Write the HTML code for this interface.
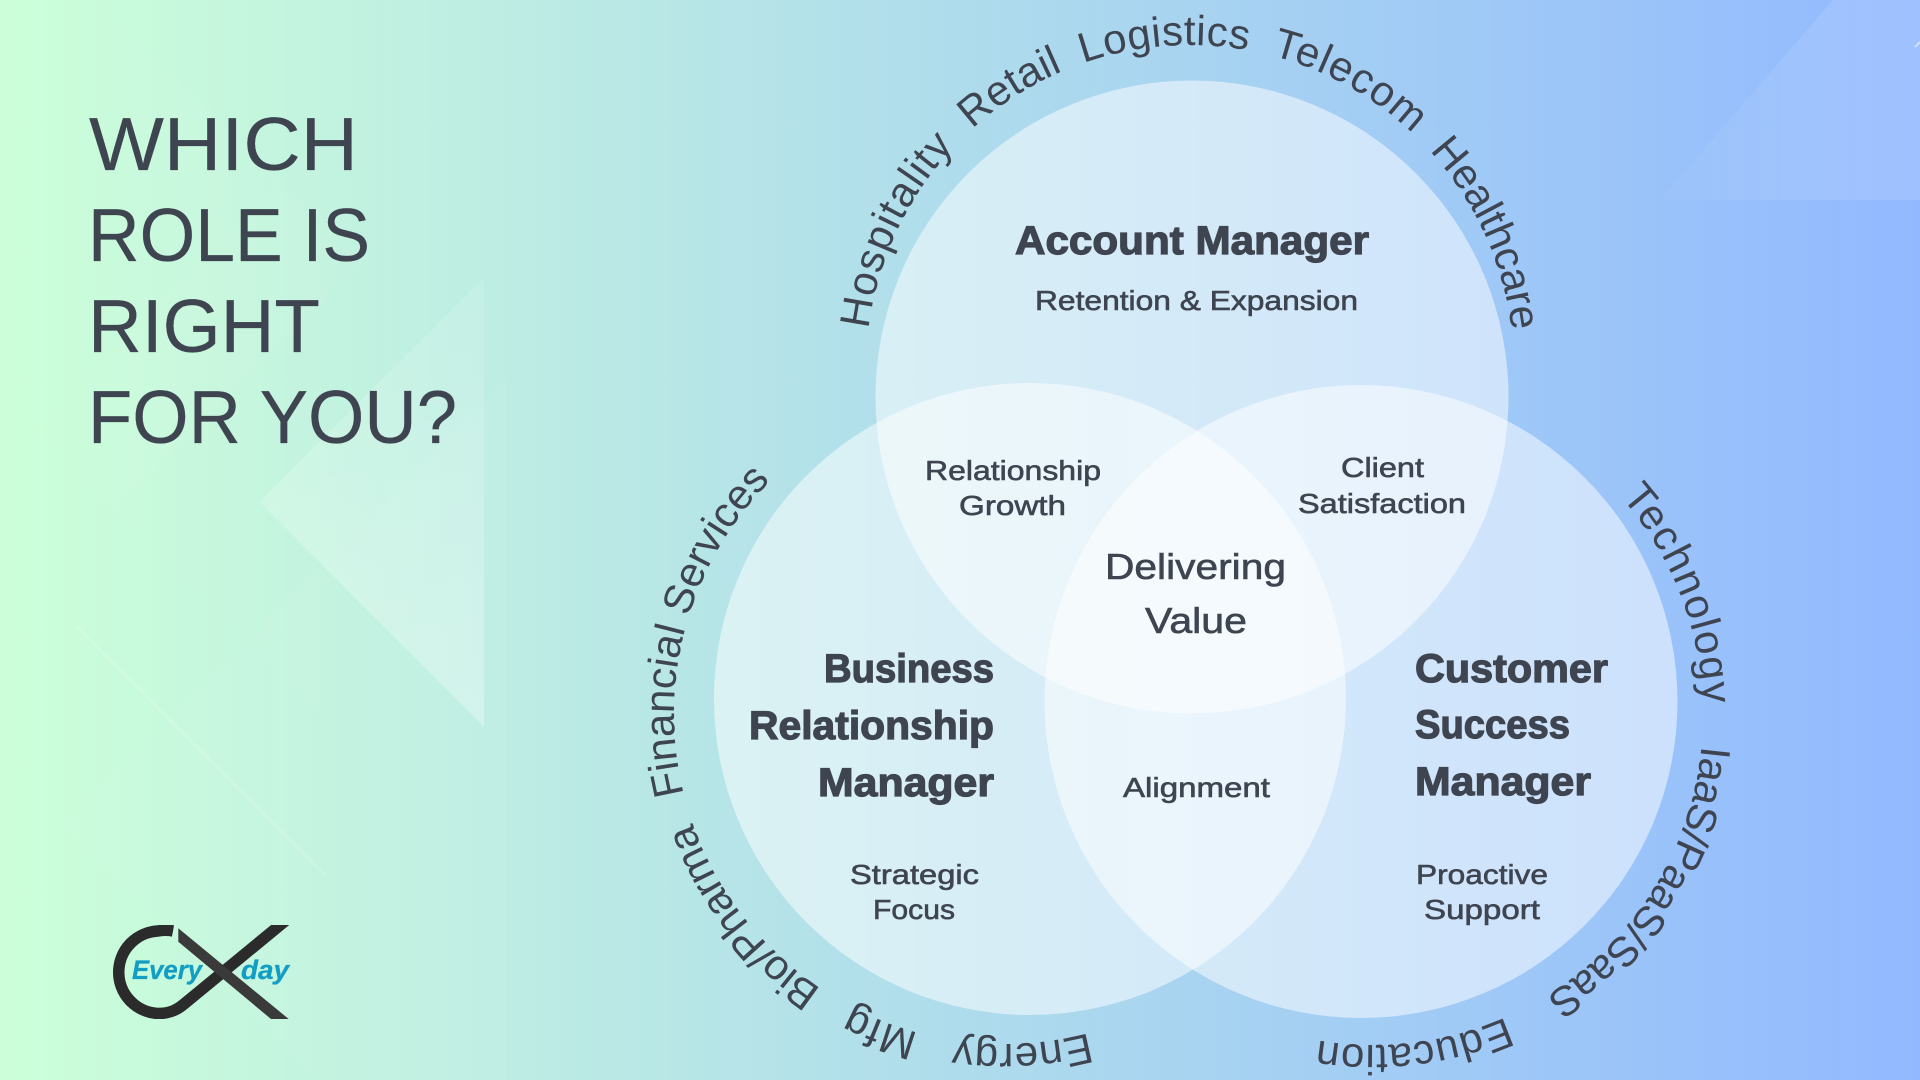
<!DOCTYPE html>
<html lang="en">
<head>
<meta charset="utf-8">
<title>Which role is right for you?</title>
<style>
html,body{margin:0;padding:0;width:1920px;height:1080px;overflow:hidden;background:#afdcec}
svg{display:block}
text{font-family:"Liberation Sans",sans-serif;fill:#3e4450}
.h{font-size:75px;stroke:#3e4450;stroke-width:.2px}
.b{font-weight:700;font-size:40px;stroke:#3e4450;stroke-width:1.2px}
.s{font-size:28px;stroke:#3e4450;stroke-width:.6px}
.c{font-size:36px;stroke:#3e4450;stroke-width:.6px}
.a{font-size:42px}
.l{font-weight:700;font-style:italic;font-size:27px;fill:#129ec4;stroke:#129ec4;stroke-width:.3px}
</style>
</head>
<body>
<svg width="1920" height="1080" viewBox="0 0 1920 1080" xmlns="http://www.w3.org/2000/svg">
<defs>
<linearGradient id="bg" x1="0" y1="0" x2="1" y2="0"><stop offset="0" stop-color="#ccffd9"/><stop offset="1" stop-color="#92b9ff"/></linearGradient>
<linearGradient id="t1" x1="0.6" y1="0" x2="0.6" y2="1"><stop offset="0" stop-color="#fff" stop-opacity=".1"/><stop offset="1" stop-color="#fff" stop-opacity=".3"/></linearGradient>
<linearGradient id="t2" x1="0" y1="0" x2="1" y2="0"><stop offset="0" stop-color="#fff" stop-opacity=".02"/><stop offset="1" stop-color="#fff" stop-opacity=".05"/></linearGradient>
<linearGradient id="t3" x1="0" y1="0" x2="1" y2="0"><stop offset="0" stop-color="#fff" stop-opacity=".02"/><stop offset=".6" stop-color="#fff" stop-opacity=".1"/><stop offset="1" stop-color="#fff" stop-opacity=".12"/></linearGradient>
<path id="top" d="M866 369 A324 324 0 0 1 1514 369"/>
<path id="lft" d="M1169 999.8 A330 330 0 0 1 839 428.2"/>
<path id="rgt" d="M1538 429.2 A330 330 0 0 1 1208 1000.8"/>
<clipPath id="lc"><rect x="100" y="925" width="200" height="94"/></clipPath>
</defs>

<rect width="1920" height="1080" fill="url(#bg)"/>

<!-- faint background triangles -->
<polygon points="120.5,503 120.5,22 362,262" fill="#fff" fill-opacity=".04"/>
<polygon points="33,430 327,136 327,724" fill="#fff" fill-opacity=".02"/>
<polygon points="507,380 61,825 316,1080 507,1080" fill="url(#t2)"/>
<polygon points="484,277 259.5,502 484,727" fill="url(#t1)"/>
<line x1="76" y1="626" x2="325" y2="875" stroke="#fff" stroke-opacity=".18" stroke-width="2"/>
<polygon points="1833,0 1920,0 1920,200 1660,200" fill="url(#t3)"/>
<line x1="1915" y1="47" x2="1920" y2="42" stroke="#fff" stroke-opacity=".5" stroke-width="2"/>

<!-- heading -->
<text class="h" x="89" y="170" textLength="269" lengthAdjust="spacingAndGlyphs">WHICH</text>
<text class="h" x="88" y="261" textLength="282" lengthAdjust="spacingAndGlyphs">ROLE IS</text>
<text class="h" x="88" y="352" textLength="232" lengthAdjust="spacingAndGlyphs">RIGHT</text>
<text class="h" x="88" y="443" textLength="369" lengthAdjust="spacingAndGlyphs">FOR YOU?</text>

<!-- venn circles -->
<circle cx="1192" cy="397" r="316.5" fill="#fff" fill-opacity=".5"/>
<circle cx="1030" cy="699" r="316" fill="#fff" fill-opacity=".5"/>
<circle cx="1361" cy="701.5" r="316.5" fill="#fff" fill-opacity=".5"/>

<!-- top curved words -->
<text class="a"><textPath href="#top" startOffset="40" textLength="205" lengthAdjust="spacing">Hospitality</textPath></text>
<text class="a"><textPath href="#top" startOffset="270" textLength="108" lengthAdjust="spacing">Retail</textPath></text>
<text class="a"><textPath href="#top" startOffset="400" textLength="167" lengthAdjust="spacing">Logistics</textPath></text>
<text class="a"><textPath href="#top" startOffset="591" textLength="163" lengthAdjust="spacing">Telecom</textPath></text>
<text class="a"><textPath href="#top" startOffset="778" textLength="201" lengthAdjust="spacing">Healthcare</textPath></text>

<!-- left curved words -->
<text class="a"><textPath href="#lft" startOffset="87" textLength="136" lengthAdjust="spacing">Energy</textPath></text>
<text class="a"><textPath href="#lft" startOffset="259" textLength="72" lengthAdjust="spacing">Mfg</textPath></text>
<text class="a"><textPath href="#lft" startOffset="366" textLength="214" lengthAdjust="spacing">Bio/Pharma</textPath></text>
<text class="a"><textPath href="#lft" startOffset="610" textLength="340" lengthAdjust="spacing">Financial Services</textPath></text>

<!-- right curved words -->
<text class="a"><textPath href="#rgt" startOffset="108" textLength="226" lengthAdjust="spacing">Technology</textPath></text>
<text class="a"><textPath href="#rgt" startOffset="376" textLength="306" lengthAdjust="spacing">IaaS/PaaS/SaaS</textPath></text>
<text class="a"><textPath href="#rgt" startOffset="727" textLength="192" lengthAdjust="spacing">Education</textPath></text>

<!-- role titles -->
<text class="b" x="1015" y="254" textLength="354" lengthAdjust="spacingAndGlyphs">Account Manager</text>
<text class="s" x="1035" y="310" textLength="323" lengthAdjust="spacingAndGlyphs">Retention &amp; Expansion</text>

<text class="b" x="824" y="682" textLength="170" lengthAdjust="spacingAndGlyphs">Business</text>
<text class="b" x="749" y="739" textLength="245" lengthAdjust="spacingAndGlyphs">Relationship</text>
<text class="b" x="818" y="796" textLength="176" lengthAdjust="spacingAndGlyphs">Manager</text>
<text class="s" x="850" y="884" textLength="129" lengthAdjust="spacingAndGlyphs">Strategic</text>
<text class="s" x="873" y="919" textLength="82" lengthAdjust="spacingAndGlyphs">Focus</text>

<text class="b" x="1415" y="682" textLength="193" lengthAdjust="spacingAndGlyphs">Customer</text>
<text class="b" x="1415" y="738" textLength="155" lengthAdjust="spacingAndGlyphs">Success</text>
<text class="b" x="1415" y="795" textLength="176" lengthAdjust="spacingAndGlyphs">Manager</text>
<text class="s" x="1416" y="884" textLength="132" lengthAdjust="spacingAndGlyphs">Proactive</text>
<text class="s" x="1424" y="919" textLength="116" lengthAdjust="spacingAndGlyphs">Support</text>

<!-- overlaps -->
<text class="s" x="925" y="480" textLength="176" lengthAdjust="spacingAndGlyphs">Relationship</text>
<text class="s" x="959" y="515" textLength="107" lengthAdjust="spacingAndGlyphs">Growth</text>
<text class="s" x="1341" y="477" textLength="83" lengthAdjust="spacingAndGlyphs">Client</text>
<text class="s" x="1298" y="513" textLength="168" lengthAdjust="spacingAndGlyphs">Satisfaction</text>
<text class="c" x="1105" y="579" textLength="181" lengthAdjust="spacingAndGlyphs">Delivering</text>
<text class="c" x="1145" y="633" textLength="102" lengthAdjust="spacingAndGlyphs">Value</text>
<text class="s" x="1123" y="797" textLength="147" lengthAdjust="spacingAndGlyphs">Alignment</text>

<!-- logo -->
<g clip-path="url(#lc)">
<path d="M173 931 A41.5 41.5 0 0 0 158 931 A41.3 41.3 0 0 0 158 1013.5 C168 1013.5 176 1011 184 1004 L296 912" fill="none" stroke="#2b2b2b" stroke-width="11.5"/>
</g>
<polygon points="178.3,928.3 288.7,1019 271,1019 178.3,941.7" fill="#3a3a3a"/>
<text class="l" x="132" y="979" textLength="70" lengthAdjust="spacingAndGlyphs">Every</text>
<text class="l" x="241" y="979" textLength="48" lengthAdjust="spacingAndGlyphs">day</text>
</svg>
</body>
</html>
